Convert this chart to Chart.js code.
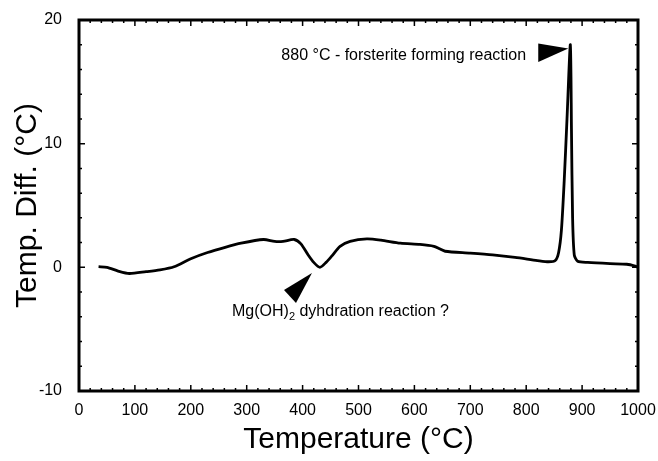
<!DOCTYPE html>
<html>
<head>
<meta charset="utf-8">
<script src="https://cdn.jsdelivr.net/npm/chart.js@4.4.0/dist/chart.umd.min.js"></script>
<style>
  html, body { margin: 0; padding: 0; background: #fff; }
  canvas { display: block; }
</style>
</head>
<body>
<canvas id="dta-chart" width="658" height="461"></canvas>
<script>
// DTA curve
const temps = [35, 50, 70, 90, 120, 145, 170, 200, 230, 260, 290, 330, 350, 365, 385, 397, 410, 420, 431, 442,
  452, 467, 485, 515, 540, 575, 610, 635, 645, 655, 700, 740, 780, 820, 840, 852, 858, 863, 868, 873,
  879, 881, 883, 886, 892, 910, 950, 980, 995, 1000];
const tempDiff = [0.05, 0.0, -0.3, -0.5, -0.35, -0.2, 0.05, 0.7, 1.2, 1.6, 1.95, 2.25, 2.1, 2.1, 2.25, 1.9, 1.0, 0.4, 0.0, 0.4,
  0.9, 1.7, 2.1, 2.3, 2.2, 1.95, 1.85, 1.7, 1.5, 1.3, 1.15, 1.0, 0.8, 0.55, 0.45, 0.55, 1.2, 3, 7, 12,
  18, 11, 4, 1.0, 0.5, 0.4, 0.3, 0.25, 0.1, 0.0];

const xTicks = [0, 100, 200, 300, 400, 500, 600, 700, 800, 900, 1000];
const yTicks = [-10, 0, 10, 20];

// annotations, anchored in data units
const notes = [
  { text: '880 °C - forsterite forming reaction', x: 362, y: 16.76,
    tri: [[821.6, 18.1], [821.6, 16.6], [875.3, 17.7]] },
  { text: 'Mg(OH)', sub: '2', rest: ' dyhdration reaction ?', x: 273.7, y: -3.94,
    tri: [[416.8, -0.46], [366.7, -1.84], [388.2, -2.89]] }
];

const FONT = '"Liberation Sans", Arial, Helvetica, sans-serif';

const framePlugin = {
  id: 'frame',
  afterDraw(chart) {
    const ctx = chart.ctx;
    const a = chart.chartArea;
    const xs = chart.scales.x, ys = chart.scales.y;
    ctx.save();
    ctx.strokeStyle = '#000';
    // inward ticks
    ctx.lineWidth = 1.5;
    ctx.beginPath();
    for (let v = xs.min; v <= xs.max; v += 20) {
      const len = xTicks.includes(v) ? 6 : 3;
      const px = xs.getPixelForValue(v);
      ctx.moveTo(px, a.bottom); ctx.lineTo(px, a.bottom - len);
      ctx.moveTo(px, a.top); ctx.lineTo(px, a.top + len);
    }
    for (let v = ys.min; v <= ys.max; v += 2) {
      const len = yTicks.includes(v) ? 6 : 3;
      const py = ys.getPixelForValue(v);
      ctx.moveTo(a.left, py); ctx.lineTo(a.left + len, py);
      ctx.moveTo(a.right, py); ctx.lineTo(a.right - len, py);
    }
    ctx.stroke();
    // frame
    ctx.lineWidth = 3;
    ctx.strokeRect(a.left, a.top, a.right - a.left, a.bottom - a.top);

    // annotations
    ctx.fillStyle = '#000';
    ctx.textBaseline = 'alphabetic';
    ctx.textAlign = 'left';
    notes.forEach(n => {
      ctx.beginPath();
      n.tri.forEach((p, i) => {
        const px = xs.getPixelForValue(p[0]), py = ys.getPixelForValue(p[1]);
        if (i === 0) ctx.moveTo(px, py); else ctx.lineTo(px, py);
      });
      ctx.closePath();
      ctx.fill();
      let tx = xs.getPixelForValue(n.x);
      const ty = ys.getPixelForValue(n.y);
      ctx.font = '16px ' + FONT;
      ctx.fillText(n.text, tx, ty);
      if (n.sub) {
        tx += ctx.measureText(n.text).width;
        ctx.font = '11px ' + FONT;
        ctx.fillText(n.sub, tx, ty + 4);
        tx += ctx.measureText(n.sub).width;
        ctx.font = '16px ' + FONT;
        ctx.fillText(n.rest, tx, ty);
      }
    });
    ctx.restore();
  }
};

new Chart(document.getElementById('dta-chart'), {
  type: 'line',
  data: {
    datasets: [{
      data: temps.map((t, i) => ({ x: t, y: tempDiff[i] })),
      borderColor: '#000',
      borderWidth: 2.8,
      pointRadius: 0,
      tension: 0.25,
      fill: false
    }]
  },
  options: {
    responsive: false,
    animation: false,
    layout: { padding: { top: 20, right: 20, left: 0, bottom: 0 } },
    plugins: { legend: { display: false }, tooltip: { enabled: false } },
    scales: {
      x: {
        type: 'linear',
        min: 0, max: 1000,
        grid: { display: false, drawTicks: false },
        border: { display: false },
        afterBuildTicks: s => { s.ticks = xTicks.map(v => ({ value: v })); },
        afterFit: s => { s.height = 70; s.paddingLeft = 0; s.paddingRight = 0; },
        ticks: { color: '#000', padding: 10, font: { size: 16, family: FONT }, callback: v => String(v) },
        title: {
          display: true, text: 'Temperature (°C)', color: '#000',
          font: { size: 30, family: FONT }, padding: { top: 0, bottom: 3 }
        }
      },
      y: {
        min: -10, max: 20,
        grid: { display: false, drawTicks: false },
        border: { display: false },
        afterBuildTicks: s => { s.ticks = yTicks.map(v => ({ value: v })); },
        afterFit: s => { s.width = 79; s.paddingTop = 0; s.paddingBottom = 0; },
        ticks: { color: '#000', padding: 17, font: { size: 16, family: FONT }, callback: v => String(v) },
        title: {
          display: true, text: 'Temp. Diff. (°C)', color: '#000',
          font: { size: 30, family: FONT }, padding: { top: 10, bottom: 0 }
        }
      }
    }
  },
  plugins: [framePlugin]
});
</script>
</body>
</html>
